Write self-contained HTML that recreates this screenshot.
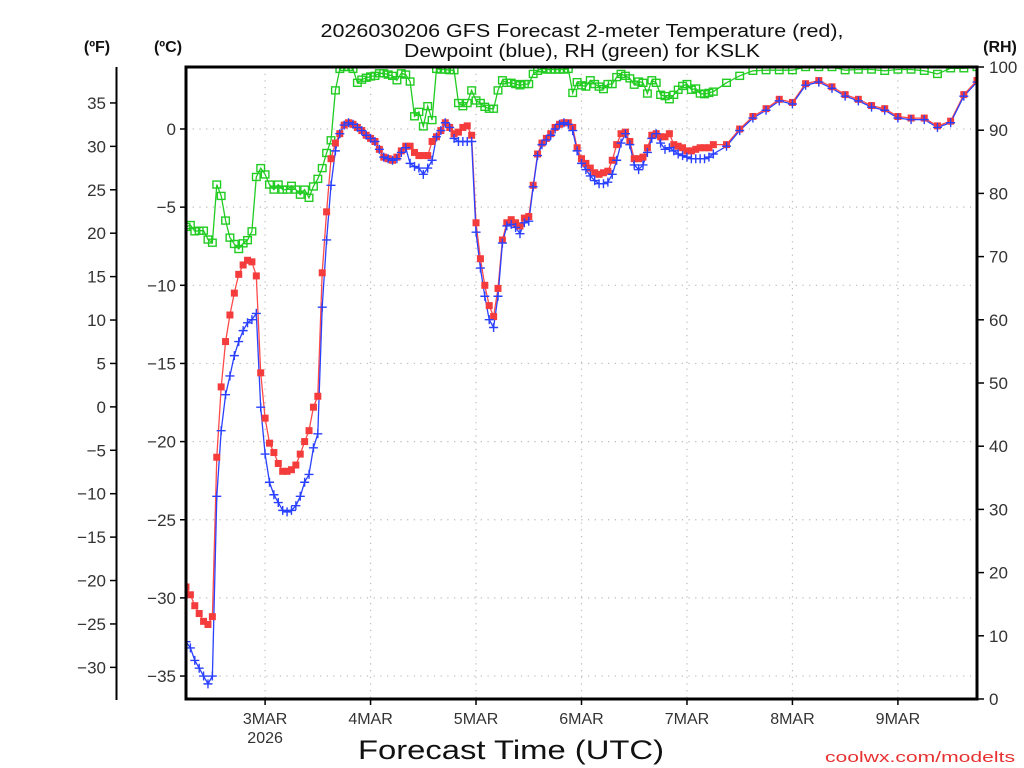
<!DOCTYPE html>
<html><head><meta charset="utf-8"><title>GFS Forecast KSLK</title>
<style>
html,body{margin:0;padding:0;background:#fff;}
svg{display:block;font-family:"Liberation Sans","DejaVu Sans",sans-serif;}
</style></head>
<body>
<svg id="chart" width="1024" height="768" viewBox="0 0 1024 768" xmlns="http://www.w3.org/2000/svg">
  <defs><clipPath id="plotclip"><rect x="186" y="67" width="791" height="632"/></clipPath></defs>
  <rect x="0" y="0" width="1024" height="768" fill="#fff"/>
  <g id="grid"></g>
  <g id="series" clip-path="url(#plotclip)"></g>
  <g id="axes"></g>
  <text x="582" y="37" font-size="18" text-anchor="middle" textLength="523" lengthAdjust="spacingAndGlyphs" fill="#111">2026030206 GFS Forecast 2-meter Temperature (red),</text>
  <text x="582" y="57" font-size="18" text-anchor="middle" textLength="356" lengthAdjust="spacingAndGlyphs" fill="#111">Dewpoint (blue), RH (green) for KSLK</text>
  <text x="97" y="52" font-size="16" font-weight="bold" text-anchor="middle" fill="#111">(ºF)</text>
  <text x="168" y="52" font-size="16" font-weight="bold" text-anchor="middle" fill="#111">(ºC)</text>
  <text x="1000" y="52" font-size="16" font-weight="bold" text-anchor="middle" fill="#111">(RH)</text>
  <text x="511" y="759" font-size="27" text-anchor="middle" textLength="306" lengthAdjust="spacingAndGlyphs" fill="#111">Forecast Time (UTC)</text>
  <text x="1015" y="762" font-size="15" text-anchor="end" textLength="190" lengthAdjust="spacingAndGlyphs" fill="#e83030">coolwx.com/modelts</text>
</svg>
<script>
// ---- data ----
const tempC = [
-29.3,-29.8,-30.5,-31.0,-31.5,-31.7,-31.2,
-21.0,-16.5,-13.6,-11.9,-10.5,-9.3,-8.7,-8.4,-8.5,-9.4,
-15.6,-18.5,-20.1,-20.7,-21.4,-21.9,-21.9,-21.8,-21.5,-20.8,-20.0,-19.3,-17.8,-17.1,
-9.2,-5.3,-1.9,-0.9,-0.3,0.25,0.4,0.3,0.1,-0.1,-0.4,
-0.6,-0.8,-1.3,-1.8,-1.9,-2.0,-1.8,-1.4,-1.1,-1.1,-1.5,-1.7,-1.7,-1.7,-0.8,-0.5,-0.1,0.4,0.1,-0.3,-0.2,0.1,0.2,-0.4,
-6.0,-8.3,-10.0,-11.3,-12.0,-10.2,-7.1,-6.0,-5.8,-6.0,-6.2,-5.7,-5.6,-3.6,-1.6,-0.9,-0.6,-0.3,0.1,0.3,0.4,0.4,0.1,-1.2,-1.9,-2.2,
-2.5,-2.8,-2.9,-2.8,-2.7,-2.0,-1.0,-0.3,-0.2,-0.8,-1.9,-1.9,-1.8,-1.2,-0.4,-0.3,-0.5,-0.5,-0.3,-1.0,-1.1,-1.2,-1.4,-1.4,-1.3,-1.2,-1.2,-1.2,-1.0,
-1.0,0.0,0.8,1.3,1.9,1.7,2.9,3.1,2.7,2.2,1.9,1.5,1.3,0.8,0.7,0.7,0.2,0.5,2.2,3.1
];
const dewC = [
-32.8,-33.2,-34.0,-34.5,-35.0,-35.5,-35.0,
-23.5,-19.3,-17.0,-15.8,-14.5,-13.6,-12.9,-12.4,-12.2,-11.8,
-17.8,-20.8,-22.6,-23.4,-23.9,-24.4,-24.5,-24.4,-24.1,-23.5,-22.6,-22.1,-20.4,-19.5,
-11.4,-7.1,-3.6,-1.4,-0.3,0.25,0.4,0.3,0.1,-0.1,-0.4,
-0.6,-0.8,-1.3,-1.8,-1.9,-2.0,-1.9,-1.5,-1.2,-2.2,-2.4,-2.5,-2.9,-2.5,-2.0,-0.5,-0.1,0.4,0.1,-0.6,-0.8,-0.8,-0.8,-0.8,
-6.6,-8.9,-10.7,-12.2,-12.7,-10.7,-7.3,-6.2,-6.1,-6.3,-6.7,-6.0,-5.9,-3.7,-1.7,-1.0,-0.7,-0.4,0.0,0.3,0.4,0.3,-0.1,-1.4,-2.2,-2.6,
-3.0,-3.3,-3.5,-3.5,-3.4,-2.9,-2.0,-0.9,-0.3,-1.0,-2.3,-2.6,-2.3,-1.5,-0.6,-0.3,-0.9,-1.3,-1.2,-1.4,-1.6,-1.7,-1.8,-1.9,-1.9,-1.9,-1.9,-1.8,-1.6,
-1.1,-0.1,0.7,1.2,1.8,1.6,2.8,3.0,2.6,2.1,1.8,1.4,1.2,0.7,0.6,0.6,0.1,0.4,2.1,3.0
];
const rhPct = [
74.7,75.0,74.0,74.1,74.1,72.7,72.2,
81.4,79.6,75.7,73.0,72.0,71.2,72.1,72.6,74.0,
82.6,84.0,83.0,81.4,80.6,81.4,80.6,80.6,81.2,80.6,79.8,80.6,79.3,81.1,82.3,84.0,86.4,88.4,
96.3,99.7,100,100,99.7,97.5,98.0,98.3,
98.5,98.6,99.0,99.0,98.8,98.6,97.9,99.0,98.8,97.7,92.2,92.9,90.6,93.8,91.6,99.7,99.6,99.6,99.5,99.5,
94.3,93.8,94.3,96.3,94.7,94.3,93.7,93.4,93.4,96.3,97.9,97.5,97.5,97.3,97.1,97.3,97.3,98.9,99.4,99.8,
99.6,99.6,99.6,99.6,99.6,99.7,95.9,97.6,97.1,96.9,
97.9,97.3,96.9,96.5,97.3,97.3,98.4,98.9,98.6,98.2,97.2,97.7,97.5,95.8,97.9,97.5,95.6,95.4,94.9,95.6,96.4,97.0,97.3,96.4,96.6,95.8,95.7,95.9,96.1,
97.5,98.6,99.4,99.5,99.5,99.5,100,100,100,99.5,99.6,99.6,99.4,99.6,99.6,99.4,98.9,99.8,99.8,100
];
const celsiusTicks = [0,-5,-10,-15,-20,-25,-30,-35];
const fahrenheitTicks = [35,30,25,20,15,10,5,0,-5,-10,-15,-20,-25,-30];
const rhTicks = [0,10,20,30,40,50,60,70,80,90,100];
const dayLabels = ["3MAR","4MAR","5MAR","6MAR","7MAR","8MAR","9MAR"];
const dayHours = [18,42,66,90,114,138,162];
const forecastHours = [];
for (let h = 0; h <= 120; h++) forecastHours.push(h);
for (let h = 123; h <= 180; h += 3) forecastHours.push(h);

// ---- scales ----
const X0 = 186, X1 = 977, Y0 = 67, Y1 = 699;
const xH = h => X0 + h * (X1 - X0) / 180;
const yC = c => 129 - c * 15.63;
const yF = f => yC((f - 32) * 5 / 9);
const yRH = r => Y1 - r * (Y1 - Y0) / 100;

const NS = "http://www.w3.org/2000/svg";
function mk(tag, attrs, parent) {
  const e = document.createElementNS(NS, tag);
  for (const k in attrs) e.setAttribute(k, attrs[k]);
  parent.appendChild(e);
  return e;
}
const grid = document.getElementById('grid');
const axes = document.getElementById('axes');
const series = document.getElementById('series');
const gridStyle = {stroke:"#b8b8b8", "stroke-width":1.2, "stroke-dasharray":"1.2,5.5"};

// grid
celsiusTicks.forEach(c => {
  const l = mk('line', Object.assign({x1:X0, x2:X1, y1:yC(c), y2:yC(c)}, gridStyle), grid);
  
  
});
dayHours.forEach(h => {
  const l = mk('line', Object.assign({x1:xH(h), x2:xH(h), y1:Y0, y2:Y1}, gridStyle), grid);
  
  
});

// series lines
function poly(vals, yf, color, name) {
  const pts = vals.map((v, i) => xH(forecastHours[i]).toFixed(1) + "," + yf(v).toFixed(1)).join(" ");
  const p = mk('polyline', {points:pts, fill:"none", stroke:color, "stroke-width":1.3}, series);
  
  
}
poly(rhPct, yRH, "#22cc22", "rh-line");
poly(tempC, yC, "#ff4a4a", "temperature-line");
poly(dewC, yC, "#2a40ff", "dewpoint-line");

rhPct.forEach((v, i) => {
  const x = xH(forecastHours[i]), y = yRH(v);
  const m = mk('rect', {x:x-3.8, y:y-3.5, width:7.6, height:7, fill:"none", stroke:"#22cc22", "stroke-width":1.4}, series);
  
  
});
tempC.forEach((v, i) => {
  const x = xH(forecastHours[i]), y = yC(v);
  const m = mk('rect', {x:x-3.5, y:y-3.5, width:7, height:7, fill:"#f43c3c"}, series);
  
  
});
dewC.forEach((v, i) => {
  const x = xH(forecastHours[i]), y = yC(v);
  const m = mk('path', {d:`M${x-4.5},${y}H${x+4.5}M${x},${y-4.5}V${y+4.5}`, stroke:"#2a40ff", "stroke-width":1.4, fill:"none"}, series);
  
  
});

// axes
const frame = mk('rect', {x:X0, y:Y0, width:X1-X0, height:Y1-Y0, fill:"none", stroke:"#000", "stroke-width":3}, axes);


const fAxis = mk('line', {x1:116.5, x2:116.5, y1:Y0, y2:700, stroke:"#000", "stroke-width":2}, axes);



const tickText = {"font-size":17, fill:"#333"};
celsiusTicks.forEach(c => {
  const y = yC(c);
  const t = mk('line', {x1:180, x2:X0, y1:y, y2:y, stroke:"#000", "stroke-width":1.5}, axes);
  
  
  const tx = mk('text', Object.assign({x:176, y:y+6, "text-anchor":"end"}, tickText), axes);
  tx.textContent = c < 0 ? "\u2212" + Math.abs(c) : String(c);
  
  
});
fahrenheitTicks.forEach(f => {
  const y = yF(f);
  const t = mk('line', {x1:110, x2:116, y1:y, y2:y, stroke:"#000", "stroke-width":1.5}, axes);
  
  
  const tx = mk('text', Object.assign({x:106, y:y+6, "text-anchor":"end"}, tickText), axes);
  tx.textContent = f < 0 ? "\u2212" + Math.abs(f) : String(f);
  
  
});
rhTicks.forEach(r => {
  const y = yRH(r);
  const t = mk('line', {x1:X1, x2:984, y1:y, y2:y, stroke:"#000", "stroke-width":1.5}, axes);
  
  
  const tx = mk('text', Object.assign({x:989, y:y+6, "text-anchor":"start"}, tickText), axes);
  tx.textContent = String(r);
  
  
});
dayHours.forEach((h, i) => {
  const x = xH(h);
  const t = mk('line', {x1:x, x2:x, y1:Y1, y2:Y1+6, stroke:"#000", "stroke-width":1.5}, axes);
  
  
  const tx = mk('text', {x:x, y:724, "text-anchor":"middle", "font-size":16, fill:"#333"}, axes);
  tx.textContent = dayLabels[i];
  
  
});
const yr = mk('text', {x:xH(18), y:743, "text-anchor":"middle", "font-size":16, fill:"#333"}, axes);
yr.textContent = "2026";


</script>
</body></html>
